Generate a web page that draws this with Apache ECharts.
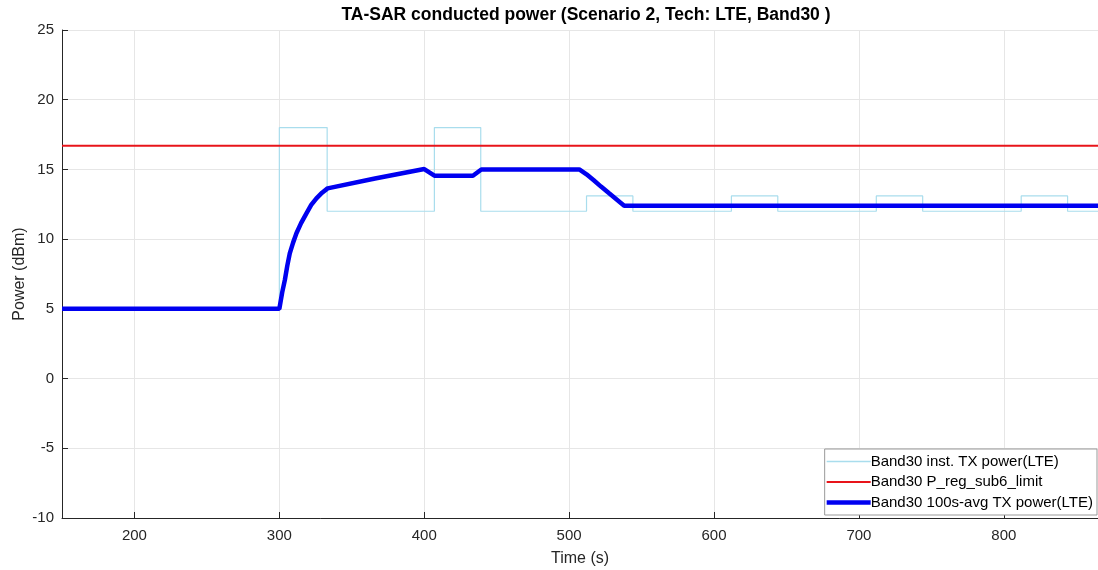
<!DOCTYPE html>
<html>
<head>
<meta charset="utf-8">
<script src="https://cdn.jsdelivr.net/npm/echarts@6/dist/echarts.min.js"></script>
<style>
  html, body { margin: 0; padding: 0; background: #fff; }
  #chart { width: 1098px; height: 570px; }
</style>
</head>
<body>
<div id="chart"></div>
<script>
// instantaneous TX power: value holds from each time until the next one
var instTimes = [150, 300, 333, 407, 439, 512, 544, 612, 644, 712, 744, 812, 844, 865];
var instValues = [5, 18, 12, 18, 12, 13.1, 12, 13.1, 12, 13.1, 12, 13.1, 12, 12];

// regulatory limit
var limitTimes = [150, 865];
var limitValues = [16.7, 16.7];

// 100s averaged TX power
var avgTimes = [150, 300, 300.7, 302, 303.8, 305.5, 307.2, 309.5, 311.8, 315, 318.7, 322, 325.6, 329.5, 333.3, 366, 400, 407, 433.6, 439.4, 507, 512, 517, 522, 527.6, 533, 538, 865];
var avgValues = [5, 5, 5, 6.2, 7.07, 8.1, 8.98, 9.75, 10.42, 11.15, 11.85, 12.45, 12.93, 13.33, 13.64, 14.35, 15.03, 14.55, 14.55, 15.0, 15.0, 14.65, 14.22, 13.77, 13.29, 12.83, 12.4, 12.4];

var xTicks = [200, 300, 400, 500, 600, 700, 800];

function pairs(xs, ys) {
  return xs.map(function (x, i) { return [x, ys[i]]; });
}

var chart = echarts.init(document.getElementById('chart'));
var font = 'Liberation Sans, Arial, sans-serif';
var cyan = '#a9dded';

chart.setOption({
  animation: false,
  textStyle: { fontFamily: font },
  title: {
    text: 'TA-SAR conducted power (Scenario 2, Tech: LTE, Band30 )',
    left: 581,
    textAlign: 'center',
    top: 1,
    textStyle: { fontSize: 17.5, fontWeight: 'bold', color: '#000', fontFamily: font }
  },
  grid: { left: 62, right: 0, top: 30, bottom: 52, outerBoundsMode: 'none' },
  xAxis: {
    type: 'value',
    min: 150,
    max: 865,
    name: 'Time (s)',
    nameLocation: 'middle',
    nameGap: 33,
    nameMoveOverlap: false,
    nameTextStyle: { fontSize: 16, color: '#262626' },
    axisLine: { onZero: false, lineStyle: { color: '#262626' } },
    axisTick: { inside: true, length: 6, customValues: xTicks, lineStyle: { color: '#262626' } },
    axisLabel: { customValues: xTicks, fontSize: 15, color: '#262626', margin: 10 },
    splitLine: { show: true, lineStyle: { color: '#e6e6e6' } }
  },
  yAxis: {
    type: 'value',
    min: -10,
    max: 25,
    interval: 5,
    name: 'Power (dBm)',
    nameLocation: 'middle',
    nameGap: 34,
    nameMoveOverlap: false,
    nameTextStyle: { fontSize: 16, color: '#262626' },
    axisLine: { show: true, onZero: false, lineStyle: { color: '#262626' } },
    axisTick: { show: true, inside: true, length: 6, lineStyle: { color: '#262626' } },
    axisLabel: { fontSize: 15, color: '#262626', margin: 8 },
    splitLine: { show: true, lineStyle: { color: '#e6e6e6' } }
  },
  legend: {
    orient: 'vertical',
    right: 1,
    bottom: 55,
    itemWidth: 44,
    itemHeight: 14,
    itemGap: 5.5,
    padding: [5, 4, 5, 2],
    backgroundColor: '#fff',
    borderColor: '#999',
    borderWidth: 1,
    borderRadius: 0,
    textStyle: { fontSize: 15, color: '#000', fontFamily: font, padding: [0, 0, 0, -5] },
    data: [
      { name: 'Band30 inst. TX power(LTE)', icon: 'path://M0,0h44v1.6h-44z', itemStyle: { color: cyan } },
      { name: 'Band30 P_reg_sub6_limit', icon: 'path://M0,0h44v2.2h-44z' },
      { name: 'Band30 100s-avg TX power(LTE)', icon: 'path://M0,0h44v4.5h-44z' }
    ]
  },
  series: [
    {
      name: 'Band30 inst. TX power(LTE)',
      type: 'line',
      step: 'end',
      symbol: 'none',
      data: pairs(instTimes, instValues),
      lineStyle: { color: cyan, width: 1.2 },
      itemStyle: { color: cyan },
      z: 1
    },
    {
      name: 'Band30 P_reg_sub6_limit',
      type: 'line',
      symbol: 'none',
      data: pairs(limitTimes, limitValues),
      lineStyle: { color: '#e8141a', width: 2.2 },
      itemStyle: { color: '#e8141a' },
      z: 2
    },
    {
      name: 'Band30 100s-avg TX power(LTE)',
      type: 'line',
      symbol: 'none',
      data: pairs(avgTimes, avgValues),
      lineStyle: { color: '#0000f0', width: 4.5 },
      itemStyle: { color: '#0000f0' },
      z: 3
    }
  ]
});
</script>
</body>
</html>
